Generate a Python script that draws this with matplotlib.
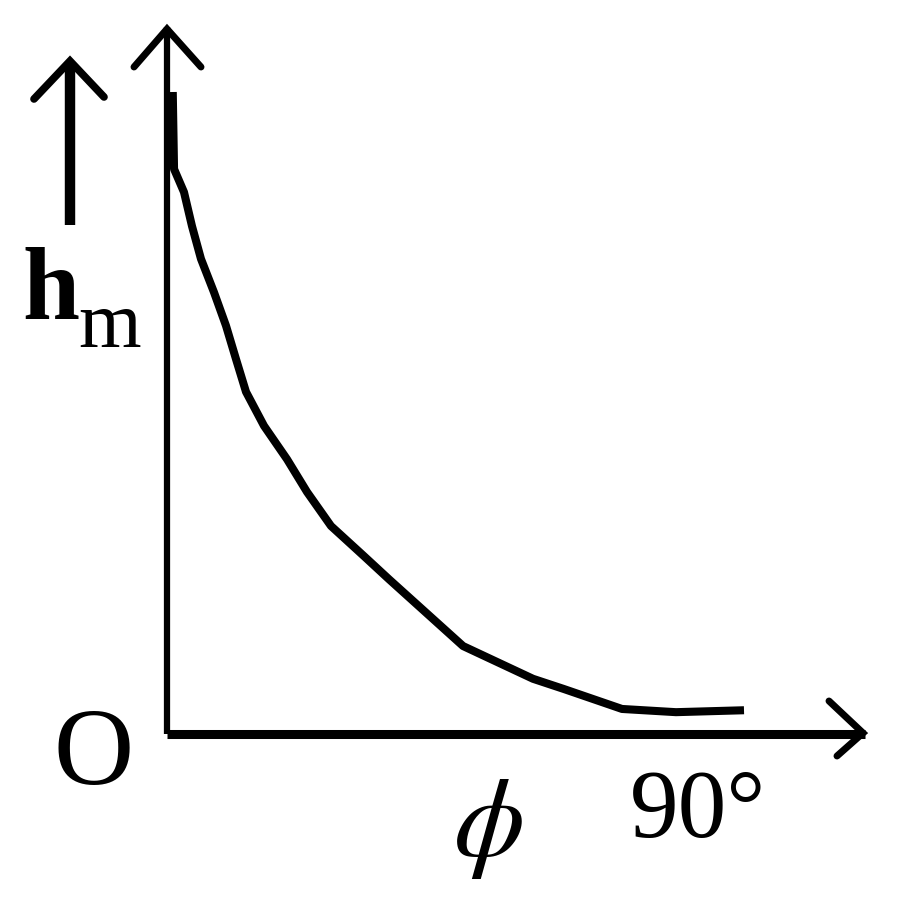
import matplotlib
matplotlib.use("Agg")
import matplotlib.pyplot as plt

plt.rcParams['mathtext.fontset'] = 'stix'

# data (phi in degrees, h_m in relative units)
phi = [0.9, 1.1, 2.65, 3.9, 5.3, 7.33, 9.2, 10.76, 12.32, 15.13, 18.72, 21.84,
       25.58, 30.73, 34.63, 46.18, 57.09, 61.93, 70.97, 79.39, 90.0]
h_m = [1.0, 0.88, 0.844, 0.791, 0.74, 0.688, 0.636, 0.584, 0.533, 0.48, 0.428, 0.377,
       0.324, 0.277, 0.241, 0.137, 0.086, 0.07, 0.039, 0.034, 0.037]
x_label = r'$\phi$'
y_label_main = 'h'
y_label_sub = 'm'
origin_label = 'O'
x_tick_label = '90°'

# layout (pixels of the 900x904 canvas)
W, H = 900, 904
X0, Y0 = 167, 735          # origin
SX = 577 / 90.0            # px per degree
SY = 642 / 1.0             # px per unit h


def px(x, y):
    """pixel position -> data coordinates (for decorations only)"""
    return (x - X0) / SX, (Y0 - y) / SY


fig = plt.figure(figsize=(W / 100, H / 100), dpi=100)
ax = fig.add_axes([0, 0, 1, 1])
ax.set_xlim((0 - X0) / SX, (W - X0) / SX)
ax.set_ylim((Y0 - H) / SY, Y0 / SY)
ax.axis('off')

k = 'black'
# axes lines
xa0, ya0 = px(X0, Y0)
xt, _ = px(865, Y0)
_, yt = px(X0, 28)
ax.plot([xa0, xt], [0, 0], color=k, lw=6.5, solid_capstyle='butt')
ax.plot([0, 0], [0, yt], color=k, lw=4.5, solid_capstyle='butt')

# arrowheads (open V)
def vhead(p1, tip, p2, lw):
    a, b, c = px(*p1), px(*tip), px(*p2)
    ax.plot([a[0], b[0], c[0]], [a[1], b[1], c[1]], color=k, lw=lw,
            solid_joinstyle='miter', solid_capstyle='round')

vhead((134, 68), (167, 30), (201, 68), 5.0)
vhead((829, 702), (863, 734), (837, 757), 5.0)

# curve
ax.plot(phi, h_m, color=k, lw=5.8, solid_capstyle='butt', solid_joinstyle='round')

# side arrow next to h_m
vhead((34, 100), (70, 62), (104, 98), 5.5)
s0 = px(70, 226)
s1 = px(70, 64)
ax.plot([s0[0], s1[0]], [s0[1], s1[1]], color=k, lw=7.5, solid_capstyle='butt')

# labels
serif = ['Liberation Serif', 'DejaVu Serif']
ax.text(*px(22, 319), y_label_main, fontsize=74, fontweight='bold', family=serif,
        ha='left', va='baseline', color=k)
ax.text(*px(78, 347), y_label_sub, fontsize=58, family=serif,
        ha='left', va='baseline', color=k)
ax.text(*px(94, 757), origin_label, fontsize=80, family=serif,
        ha='center', va='center', color=k)
ax.text(*px(488, 826), x_label, fontsize=82, ha='center', va='center', color=k)
ax.text(*px(698, 837), x_tick_label, fontsize=70, family=serif,
        ha='center', va='baseline', color=k)

fig.savefig('out.png', dpi=100, facecolor='white')
